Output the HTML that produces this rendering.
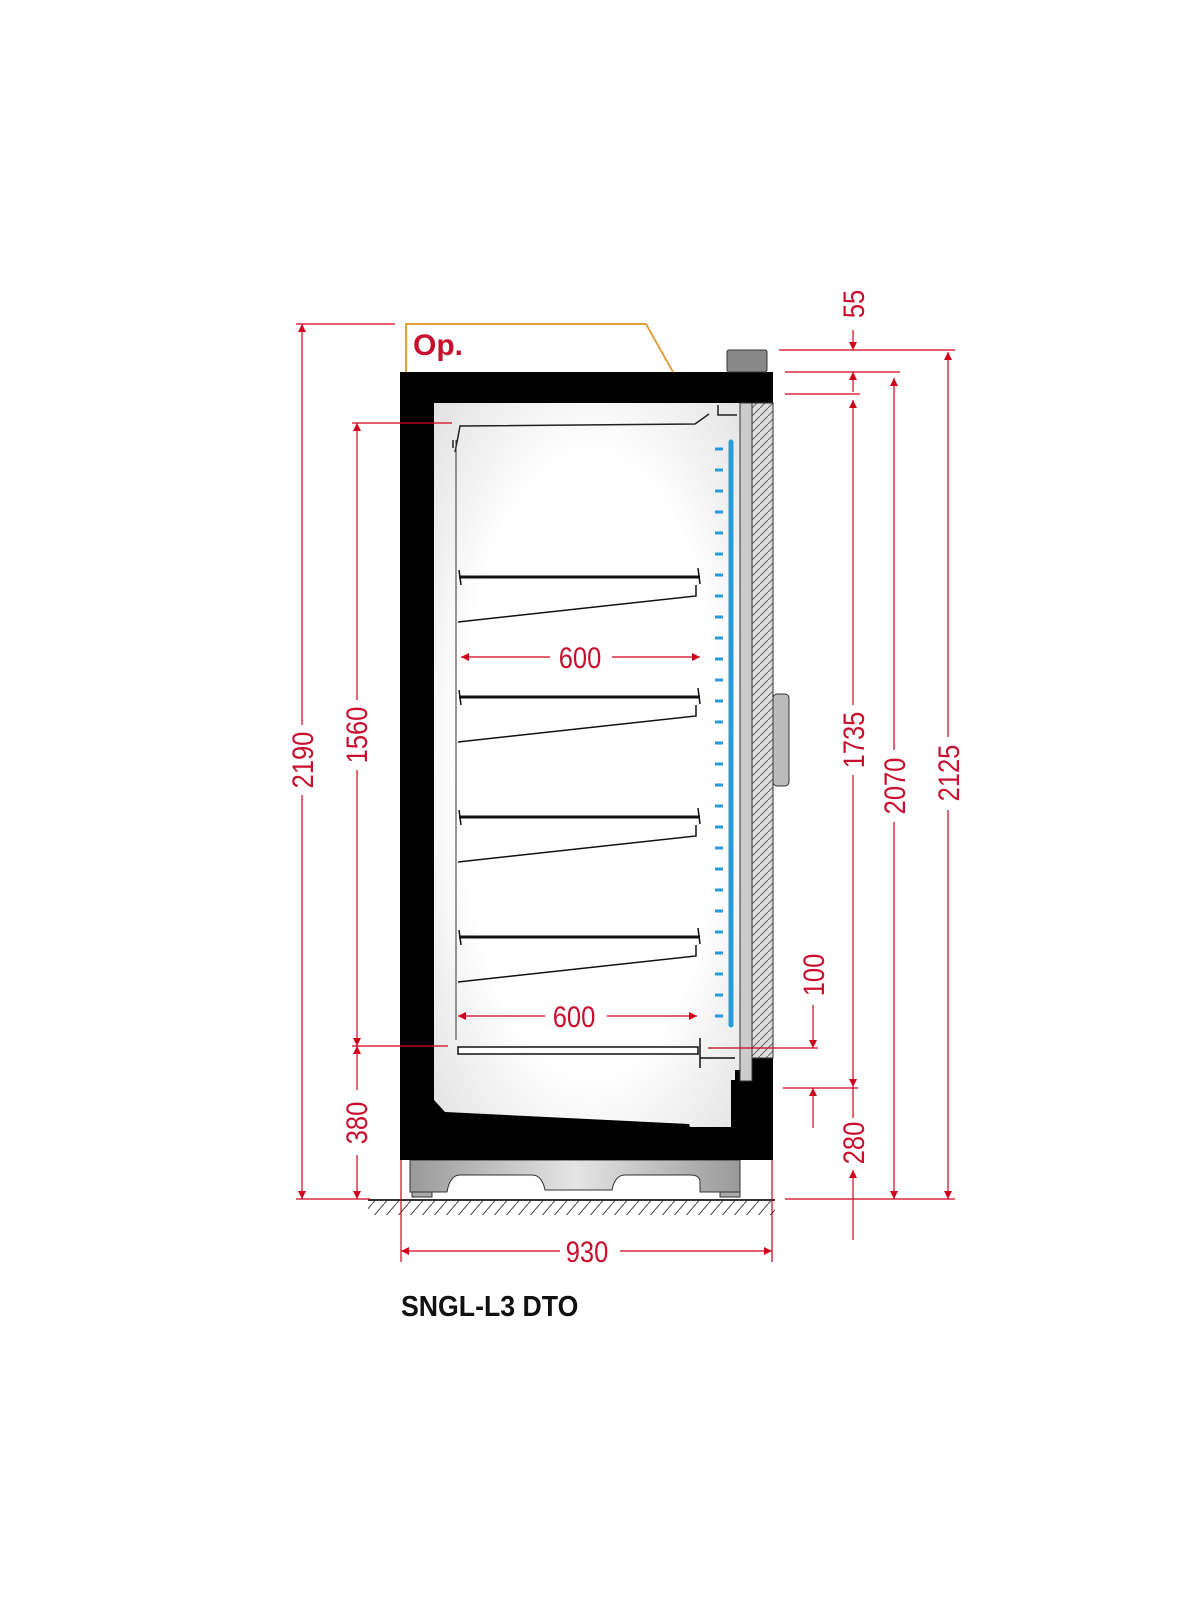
<!DOCTYPE html>
<html><head><meta charset="utf-8"><style>
html,body{margin:0;padding:0;background:#fff}
svg{display:block}
.t{font-family:"Liberation Sans",sans-serif;font-size:30px;fill:#c8102e;font-weight:normal}
</style></head><body>
<svg width="1200" height="1600" viewBox="0 0 1200 1600" xmlns="http://www.w3.org/2000/svg">
<defs>
<marker id="a" viewBox="0 0 10 10" refX="10" refY="5" markerWidth="16" markerHeight="8" orient="auto-start-reverse" markerUnits="userSpaceOnUse"><path d="M0,0 L10,5 L0,10z" fill="#d0021b"/></marker>
<pattern id="h" width="8" height="8" patternUnits="userSpaceOnUse"><rect width="8" height="8" fill="#ddd"/><path d="M0,8 L8,0" stroke="#666" stroke-width="1"/></pattern>
<pattern id="fh" width="12" height="14" patternUnits="userSpaceOnUse"><path d="M0,14 L12,0" stroke="#444" stroke-width="1"/></pattern>
<radialGradient id="g" cx="0.5" cy="0.5" r="0.7"><stop offset="0.6" stop-color="#fff"/><stop offset="1" stop-color="#e2e2e2"/></radialGradient>
<linearGradient id="bg" x1="0" x2="1"><stop offset="0" stop-color="#999"/><stop offset="0.5" stop-color="#e5e5e5"/><stop offset="1" stop-color="#999"/></linearGradient>
</defs>
<path d="M410,1160 L740,1160 L740,1192 L725,1192 L700,1192 L700,1182 Q700,1175 690,1175 L625,1175 Q615,1175 612,1190 L545,1190 Q542,1175 532,1175 L460,1175 Q450,1175 447,1192 L410,1192z" fill="url(#bg)" stroke="#333"/>
<rect x="412" y="1192" width="20" height="5" fill="#aaa" stroke="#333"/><rect x="720" y="1192" width="20" height="5" fill="#aaa" stroke="#333"/>
<line x1="368" y1="1200" x2="775" y2="1200" stroke="#333" stroke-width="2"/>
<rect x="368" y="1201" width="407" height="14" fill="url(#fh)"/>
<rect x="400" y="372" width="373" height="788" fill="#000"/>
<rect x="727" y="350" width="40" height="22" rx="2" fill="#888" stroke="#333"/>
<path d="M434,403 L748,403 L748,1070 L735,1070 L735,1080 L731,1080 L731,1127 L690,1127 L689,1124 L445,1112 L434,1100z" fill="url(#g)"/>
<rect x="740" y="403" width="12" height="678" fill="#ccc" stroke="#333"/>
<rect x="752" y="403" width="21" height="655" fill="url(#h)" stroke="#333"/>
<rect x="773" y="694" width="16" height="92" rx="4" fill="#bbb" stroke="#333"/>
<path d="M455,452 L458,437 L460,426 L695,424 L709,414" fill="none" stroke="#222" stroke-width="1.5"/>
<line x1="453" y1="440" x2="453" y2="448" stroke="#222" stroke-width="1.5"/>
<path d="M718,405 L718,415 L737,415" fill="none" stroke="#222" stroke-width="1.5"/>
<line x1="456" y1="440" x2="456" y2="1040" stroke="#333" stroke-width="1"/>
<g stroke="#111" fill="none" stroke-width="1.5">
<g id="s"><line x1="459" y1="577" x2="700" y2="577" stroke-width="3"/><path d="M459,570 L461,585 M698,568 L700,584"/><path d="M696,585 L696,596 L458,622"/></g>
<use href="#s" y="120"/><use href="#s" y="240"/><use href="#s" y="360"/>
<rect x="458" y="1047" width="240" height="7" fill="#fff"/>
<path d="M700,1038 L700,1068 M700,1058 L735,1058"/>
</g>
<line x1="731" y1="442" x2="731" y2="1025" stroke="#2a9ad8" stroke-width="5" stroke-linecap="round"/>
<g stroke="#2a9ad8" stroke-width="3">
<path d="M715,449h8M715,470h8M715,491h8M715,512h8M715,533h8M715,554h8M715,575h8M715,596h8M715,617h8M715,638h8M715,659h8M715,680h8M715,701h8M715,722h8M715,743h8M715,764h8M715,785h8M715,806h8M715,827h8M715,848h8M715,869h8M715,890h8M715,911h8M715,932h8M715,953h8M715,974h8M715,995h8M715,1016h8"/>
</g>
<path d="M406,372 L406,324 L646,324 L673,372" fill="none" stroke="#e0a040" stroke-width="2"/>
<text x="413" y="355" class="t" style="font-weight:bold">Op.</text>
<g stroke="#d0021b" stroke-width="1.2" fill="none">
<line x1="296" y1="324" x2="395" y2="324"/><line x1="296" y1="1199" x2="370" y2="1199"/>
<line x1="302" y1="324" x2="302" y2="725" marker-start="url(#a)"/><line x1="302" y1="795" x2="302" y2="1199" marker-end="url(#a)"/>
<line x1="352" y1="423" x2="452" y2="423"/><line x1="352" y1="1046" x2="448" y2="1046"/>
<line x1="357" y1="423" x2="357" y2="700" marker-start="url(#a)"/><line x1="357" y1="770" x2="357" y2="1046" marker-end="url(#a)"/>
<line x1="357" y1="1046" x2="357" y2="1090" marker-start="url(#a)"/><line x1="357" y1="1155" x2="357" y2="1199" marker-end="url(#a)"/>
<line x1="779" y1="350" x2="955" y2="350"/><line x1="785" y1="372" x2="900" y2="372"/><line x1="785" y1="394" x2="860" y2="394"/>
<line x1="853" y1="330" x2="853" y2="350" marker-end="url(#a)"/><line x1="853" y1="372" x2="853" y2="392" marker-start="url(#a)"/>
<line x1="853" y1="400" x2="853" y2="705" marker-start="url(#a)"/><line x1="853" y1="775" x2="853" y2="1087" marker-end="url(#a)"/>
<line x1="853" y1="1087" x2="853" y2="1118"/><line x1="853" y1="1170" x2="853" y2="1240" marker-start="url(#a)"/>
<line x1="894" y1="378" x2="894" y2="750" marker-start="url(#a)"/><line x1="894" y1="822" x2="894" y2="1199" marker-end="url(#a)"/>
<line x1="948" y1="352" x2="948" y2="737" marker-start="url(#a)"/><line x1="948" y1="810" x2="948" y2="1199" marker-end="url(#a)"/>
<line x1="785" y1="1199" x2="955" y2="1199"/>
<line x1="708" y1="1048" x2="818" y2="1048"/><line x1="783" y1="1088" x2="858" y2="1088"/>
<line x1="813" y1="1005" x2="813" y2="1048" marker-end="url(#a)"/><line x1="813" y1="1088" x2="813" y2="1128" marker-start="url(#a)"/>
<line x1="401" y1="1160" x2="401" y2="1262"/><line x1="772" y1="1160" x2="772" y2="1262"/>
<line x1="401" y1="1251" x2="560" y2="1251" marker-start="url(#a)"/><line x1="620" y1="1251" x2="772" y2="1251" marker-end="url(#a)"/>
<line x1="461" y1="657" x2="550" y2="657" marker-start="url(#a)"/><line x1="612" y1="657" x2="700" y2="657" marker-end="url(#a)"/>
<line x1="458" y1="1016" x2="545" y2="1016" marker-start="url(#a)"/><line x1="607" y1="1016" x2="697" y2="1016" marker-end="url(#a)"/>
</g>
<g class="t" text-anchor="middle">
<text x="0" y="0" transform="translate(313,760) rotate(-90) scale(0.85,1)">2190</text>
<text x="0" y="0" transform="translate(367,735) rotate(-90) scale(0.85,1)">1560</text>
<text x="0" y="0" transform="translate(367,1123) rotate(-90) scale(0.85,1)">380</text>
<text x="0" y="0" transform="translate(864,304) rotate(-90) scale(0.85,1)">55</text>
<text x="0" y="0" transform="translate(864,740) rotate(-90) scale(0.85,1)">1735</text>
<text x="0" y="0" transform="translate(864,1143) rotate(-90) scale(0.85,1)">280</text>
<text x="0" y="0" transform="translate(905,786) rotate(-90) scale(0.85,1)">2070</text>
<text x="0" y="0" transform="translate(959,773) rotate(-90) scale(0.85,1)">2125</text>
<text x="0" y="0" transform="translate(824,975) rotate(-90) scale(0.85,1)">100</text>
<text x="0" y="0" transform="translate(587,1262) scale(0.85,1)">930</text>
<text x="0" y="0" transform="translate(580,668) scale(0.85,1)">600</text>
<text x="0" y="0" transform="translate(574,1027) scale(0.85,1)">600</text>
</g>
<text x="401" y="1316" style="font-family:'Liberation Sans',sans-serif;font-size:29px;font-weight:bold;fill:#111" transform="translate(401,0) scale(0.92,1) translate(-401,0)">SNGL-L3 DTO</text>
</svg>
</body></html>
